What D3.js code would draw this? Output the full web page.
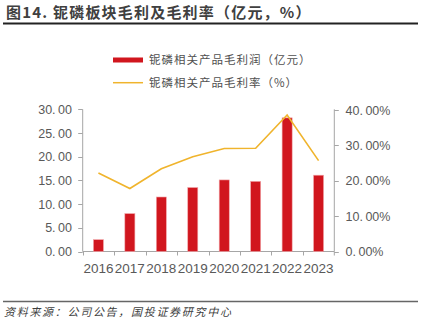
<!DOCTYPE html>
<html>
<head>
<meta charset="utf-8">
<script src="https://cdn.jsdelivr.net/npm/d3@7"></script>
<style>
  html, body { margin: 0; padding: 0; background: #fff; }
  svg { display: block; }
  text { font-family: "Liberation Sans", Arial, sans-serif; }
  .cjk { font-family: "Noto Sans CJK SC", sans-serif; }
</style>
</head>
<body>
<svg id="chart" width="421" height="323"></svg>
<script>
// 铌磷板块毛利（亿元）与毛利率（%）
var years = ['2016', '2017', '2018', '2019', '2020', '2021', '2022', '2023'];
var grossProfit = [2.5, 8.0, 11.5, 13.5, 15.1, 14.8, 28.2, 16.1];
var grossMargin = [22.2, 17.8, 23.4, 26.8, 29.1, 29.2, 38.6, 25.7];
var leftTicks = [0, 5, 10, 15, 20, 25, 30];
var rightTicks = [0, 10, 20, 30, 40];

var svg = d3.select('#chart');
var W = 421;

var plot = { left: 82.7, right: 334.3, top: 109.3, bottom: 251.5 };

var x = d3.scaleBand().domain(years).range([plot.left, plot.right]).padding(0);
var yL = d3.scaleLinear().domain([0, 30]).range([plot.bottom, plot.top]);
var yR = d3.scaleLinear().domain([0, 40]).range([plot.bottom, plot.top + 0.7]);

// title
svg.append('text').attr('class', 'cjk')
    .attr('x', 6).attr('y', 18)
    .attr('font-size', 15).attr('font-weight', 'bold').attr('fill', '#404040')
    .attr('letter-spacing', 1.2)
    .text('图14. 铌磷板块毛利及毛利率（亿元，%）');
svg.append('line').attr('x1', 3).attr('x2', W - 3).attr('y1', 23.5).attr('y2', 23.5)
    .attr('stroke', '#222').attr('stroke-width', 2);

// legend
var lg = svg.append('g');
lg.append('rect').attr('x', 113).attr('y', 57.5).attr('width', 30).attr('height', 5).attr('fill', '#d1161e');
lg.append('text').attr('class', 'cjk').attr('x', 149).attr('y', 64)
    .attr('font-size', 11.5).attr('letter-spacing', 1).attr('fill', '#505050')
    .text('铌磷相关产品毛利润（亿元）');
lg.append('line').attr('x1', 113).attr('x2', 143).attr('y1', 82.7).attr('y2', 82.7)
    .attr('stroke', '#f0b42c').attr('stroke-width', 1.5);
lg.append('text').attr('class', 'cjk').attr('x', 149).attr('y', 87)
    .attr('font-size', 11.5).attr('letter-spacing', 1).attr('fill', '#505050')
    .text('铌磷相关产品毛利率（%）');

// number label with a wider gap after the decimal point
function numLabel(sel, v, suffix) {
    var s = v.toFixed(2).split('.');
    sel.append('tspan').text(s[0] + '.');
    sel.append('tspan').attr('dx', 2.5).text(s[1] + suffix);
}

var axisColor = '#a6a6a6';

// left axis
var gl = svg.append('g');
gl.append('line').attr('x1', plot.left).attr('x2', plot.left)
    .attr('y1', plot.top).attr('y2', plot.bottom).attr('stroke', axisColor);
leftTicks.forEach(function (t) {
    var yy = Math.round(yL(t)) + 0.5;
    gl.append('line').attr('x1', plot.left - 4.5).attr('x2', plot.left)
        .attr('y1', yy).attr('y2', yy).attr('stroke', axisColor);
    gl.append('text').attr('x', 72).attr('y', yL(t) + 4.5)
        .attr('text-anchor', 'end').attr('font-size', 12.5).attr('fill', '#595959')
        .call(numLabel, t, '');
});

// right axis
var gr = svg.append('g');
gr.append('line').attr('x1', plot.right).attr('x2', plot.right)
    .attr('y1', plot.top).attr('y2', plot.bottom).attr('stroke', axisColor);
rightTicks.forEach(function (t) {
    var yy = Math.round(yR(t)) + 0.5;
    gr.append('line').attr('x1', plot.right).attr('x2', plot.right + 4.5)
        .attr('y1', yy).attr('y2', yy).attr('stroke', axisColor);
    gr.append('text').attr('x', 345.5).attr('y', yR(t) + 4.5)
        .attr('text-anchor', 'start').attr('font-size', 12.5).attr('fill', '#595959')
        .call(numLabel, t, '%');
});

// x axis
var gx = svg.append('g');
gx.append('line').attr('x1', plot.left).attr('x2', plot.right)
    .attr('y1', plot.bottom).attr('y2', plot.bottom).attr('stroke', axisColor);
years.forEach(function (yr, i) {
    var bx = Math.round(x(yr)) + 0.5;
    gx.append('line').attr('x1', bx).attr('x2', bx)
        .attr('y1', plot.bottom).attr('y2', plot.bottom + 4).attr('stroke', axisColor);
    gx.append('text').attr('x', x(yr) + x.bandwidth() / 2).attr('y', 273)
        .attr('text-anchor', 'middle').attr('font-size', 13.5).attr('fill', '#595959')
        .text(yr);
});
gx.append('line').attr('x1', plot.right).attr('x2', plot.right)
    .attr('y1', plot.bottom).attr('y2', plot.bottom + 4).attr('stroke', axisColor);

// bars
var bw = x.bandwidth() * 0.32;
svg.append('g').selectAll('rect').data(grossProfit).join('rect')
    .attr('x', function (d, i) { return x(years[i]) + (x.bandwidth() - bw) / 2; })
    .attr('y', function (d) { return yL(d); })
    .attr('width', bw)
    .attr('height', function (d) { return yL(0) - yL(d); })
    .attr('fill', '#d1161e')
    .attr('stroke', '#f2a9ac').attr('stroke-width', 0.6);

// margin line
var line = d3.line()
    .x(function (d, i) { return x(years[i]) + x.bandwidth() / 2; })
    .y(function (d) { return yR(d); });
svg.append('path').datum(grossMargin)
    .attr('d', line).attr('fill', 'none')
    .attr('stroke', '#f0b42c').attr('stroke-width', 1.6);

// source
svg.append('line').attr('x1', 3).attr('x2', W - 3).attr('y1', 301.5).attr('y2', 301.5)
    .attr('stroke', '#666').attr('stroke-width', 1.5);
svg.append('text').attr('class', 'cjk').attr('x', 4).attr('y', 316)
    .attr('font-size', 11).attr('font-style', 'italic').attr('letter-spacing', 1.7)
    .attr('fill', '#404040')
    .text('资料来源：公司公告，国投证券研究中心');
</script>
</body>
</html>
